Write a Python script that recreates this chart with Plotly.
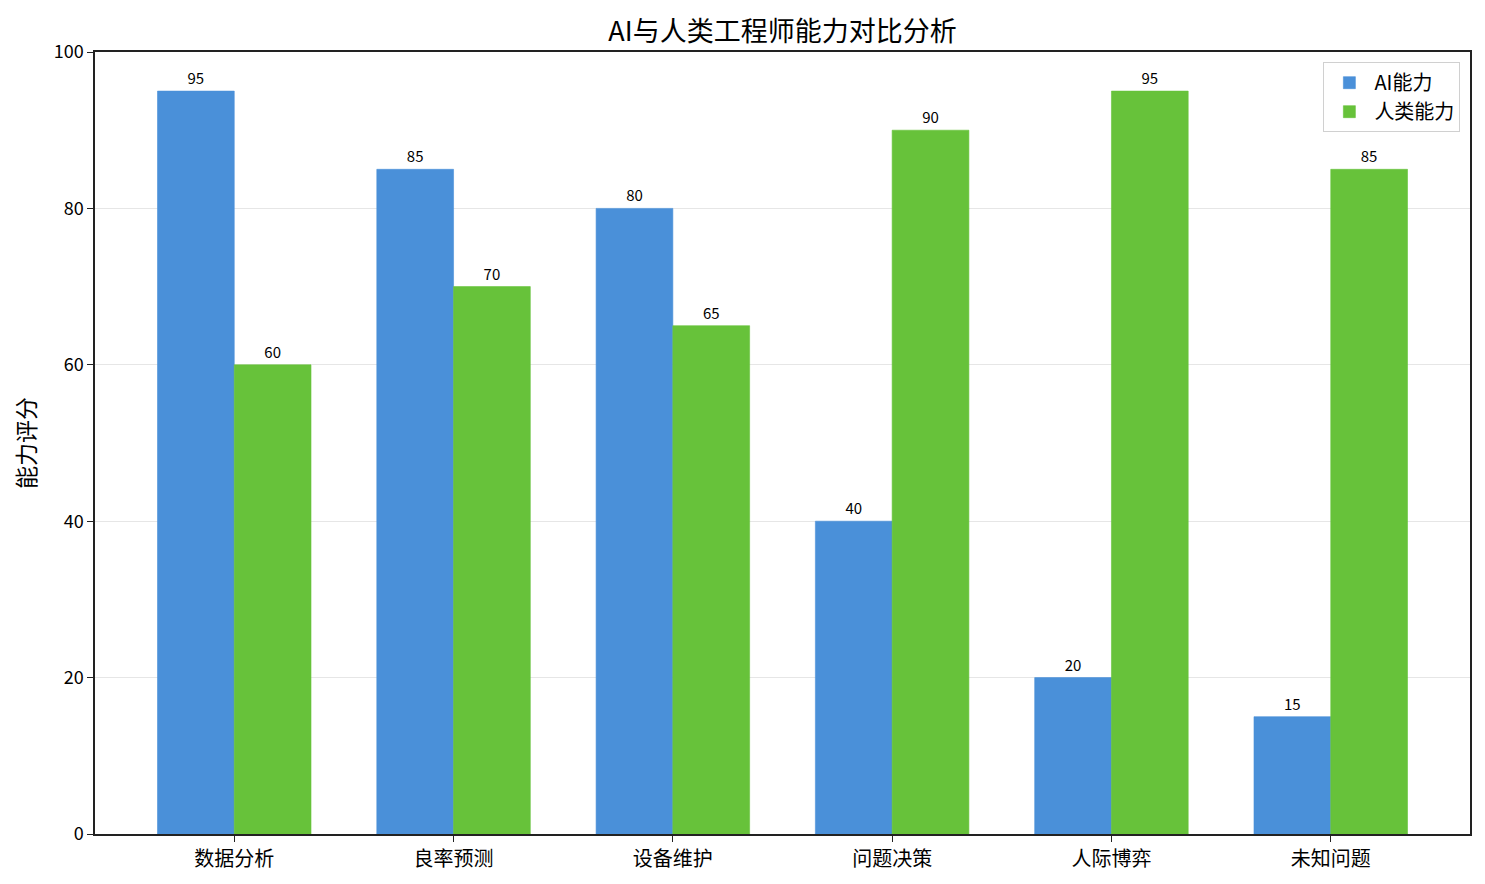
import plotly.graph_objects as go

# 数据
categories = ["数据分析", "良率预测", "设备维护", "问题决策", "人际博弈", "未知问题"]
ai_scores = [95, 85, 80, 40, 20, 15]
human_scores = [60, 70, 65, 90, 95, 85]

font_cjk = "Noto Sans CJK SC"
ai_color = "#4A90D9"
human_color = "#67C23A"

fig = go.Figure()
fig.add_trace(go.Bar(
    x=categories, y=ai_scores, name="AI能力",
    marker=dict(color=ai_color, line=dict(color=ai_color, width=0.6)),
    text=ai_scores, textposition="outside",
    textfont=dict(size=15, color="black"),
))
fig.add_trace(go.Bar(
    x=categories, y=human_scores, name="人类能力",
    marker=dict(color=human_color, line=dict(color=human_color, width=0.6)),
    text=human_scores, textposition="outside",
    textfont=dict(size=15, color="black"),
))

# 页面 body 有 8px 默认边距，所以整体尺寸减掉
fig.update_layout(
    width=1477, height=876,
    template="plotly_white",
    font=dict(family=font_cjk, size=16, color="black"),
    title=dict(text="AI与人类工程师能力对比分析", x=0.5, xref="paper", xanchor="center",
               y=0.973, yanchor="middle", font=dict(size=27)),
    barmode="group", bargap=0.3, bargroupgap=0,
    margin=dict(l=87, r=15, t=44, b=50),
    plot_bgcolor="white",
    legend=dict(x=0.993, y=0.987, xanchor="right", yanchor="top",
                bordercolor="#d0d0d0", borderwidth=1, bgcolor="white",
                font=dict(size=20), itemwidth=40, tracegroupgap=4),
)
fig.update_xaxes(
    range=[-0.635, 5.635], showline=True, linecolor="#222", linewidth=1.5,
    mirror=True, ticks="outside", ticklen=6, tickcolor="#222",
    showgrid=False, tickfont=dict(size=20),
)
fig.update_yaxes(
    range=[0, 100], dtick=20, showline=True, linecolor="#222", linewidth=1.5,
    mirror=True, ticks="outside", ticklen=6, tickcolor="#222",
    showgrid=True, gridcolor="#e6e6e6", zeroline=False,
    title=dict(text="能力评分", font=dict(size=23), standoff=12),
    tickfont=dict(size=18),
)
fig.update_traces(cliponaxis=False)

fig.write_html("out.html")
